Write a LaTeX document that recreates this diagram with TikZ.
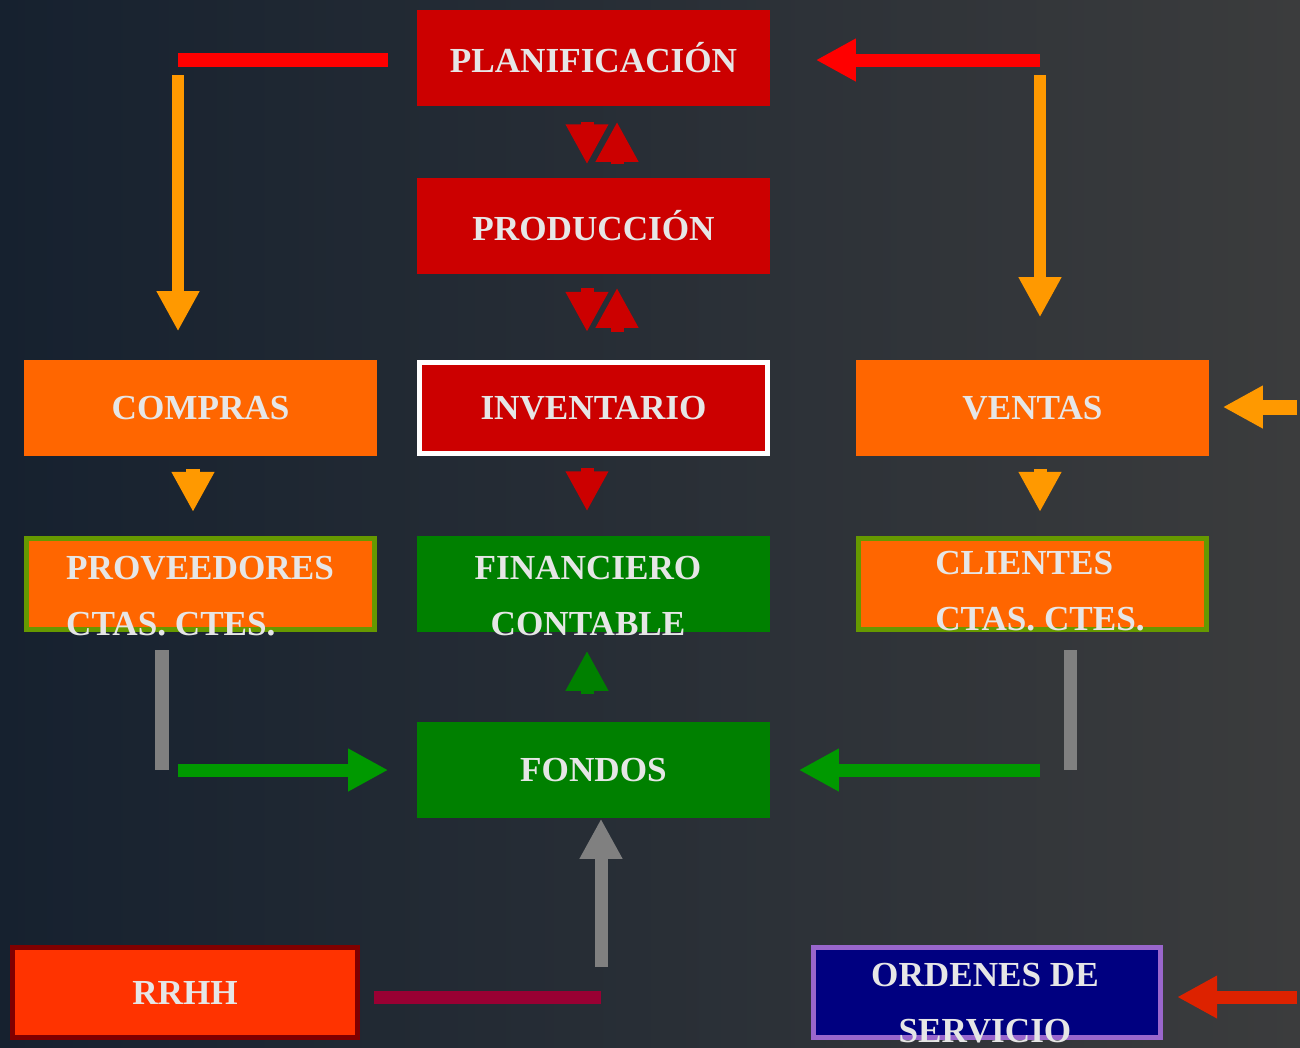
\documentclass[tikz,border=0pt]{standalone}
\usepackage{fontspec}
\setmainfont{Liberation Serif}
\usetikzlibrary{arrows.meta}

\definecolor{boxred}{HTML}{CC0000}
\definecolor{boxorange}{HTML}{FF6600}
\definecolor{boxgreen}{HTML}{008000}
\definecolor{edgegreen}{HTML}{669900}
\definecolor{arrorange}{HTML}{FF9900}
\definecolor{arrgreen}{HTML}{009900}
\definecolor{arrgray}{HTML}{808080}
\definecolor{crimson}{HTML}{990033}
\definecolor{hrred}{HTML}{FF3300}
\definecolor{hredge}{HTML}{800000}
\definecolor{navy}{HTML}{000080}
\definecolor{lilac}{HTML}{9966CC}
\definecolor{darkorangered}{HTML}{DD2200}
\definecolor{txtgray}{HTML}{E6E6E6}
\definecolor{bgleft}{HTML}{16212F}
\definecolor{bgright}{HTML}{3B3C3D}

\begin{document}
\begin{tikzpicture}[x=0.01cm,y=-0.01cm,
	box/.style={minimum width=3.53cm,minimum height=0.96cm,inner sep=0pt,text=txtgray,
		font=\bfseries\fontsize{10}{12}\selectfont},
	framed/.style={box,minimum width=3.48cm,minimum height=0.91cm,line width=0.05cm,draw=#1},
	txt/.style={text=txtgray,inner sep=0pt,font=\bfseries\fontsize{10}{12}\selectfont},
	tip/.style={-{Triangle[length=0.4cm,width=0.4cm]}},
	bar/.style={line width=0.13cm},
	redtip/.style={tip,bar,boxred}]

	% background
	\fill[left color=bgleft,right color=bgright] (0,0) rectangle (1300,1047);
	\useasboundingbox (0,0) rectangle (1300,1047);

	% central column
	\node[box,fill=boxred] (plan) at (593.5,58) {PLANIFICACIÓN};
	\node[box,fill=boxred] (prod) at (593.5,226) {PRODUCCIÓN};
	\node[framed=white,fill=boxred] (inv) at (593.5,408) {INVENTARIO};
	\node[box,fill=boxgreen] (fin) at (593.5,584) {};
	\node[txt,align=center] (fin-txt) at (588,596) {FINANCIERO\\[0.13cm]CONTABLE};
	\node[box,fill=boxgreen] (fondos) at (593.5,770) {FONDOS};

	% side columns
	\node[box,fill=boxorange] (compras) at (200.5,408) {COMPRAS};
	\node[box,fill=boxorange] (ventas) at (1032.5,408) {VENTAS};
	\node[framed=edgegreen,fill=boxorange] (prov) at (200.5,584) {};
	\node[txt,align=left] (prov-txt) at (200,596) {PROVEEDORES\\[0.13cm]CTAS. CTES.};
	\node[framed=edgegreen,fill=boxorange] (cli) at (1032.5,584) {};
	\node[txt,align=left] (cli-txt) at (1040,591) {CLIENTES\\[0.13cm]CTAS. CTES.};

	% bottom row
	\node[framed=hredge,fill=hrred,minimum width=3.45cm,minimum height=0.9cm] (rrhh) at (185,992.5) {RRHH};
	\node[framed=lilac,fill=navy,minimum width=3.47cm,minimum height=0.9cm] (ord) at (987,992.5) {};
	\node[txt,align=center] (ord-txt) at (985,1003) {ORDENES DE\\[0.13cm]SERVICIO};

	\coordinate (tl) at (178,60);
	\coordinate (tr) at (1040,60);
	\coordinate (bl) at (162,770);
	\coordinate (br) at (1070,770);
	\coordinate (bm) at (601,997);
	\coordinate (rv) at (1297,407);
	\coordinate (rb) at (1297,997);

	% top loop
	\draw[bar,red,line width=0.14cm,shorten >=0.28cm] (tl) -- (plan.west |- tl);
	\draw[tip,bar,line width=0.12cm,arrorange,shorten <=0.15cm,shorten >=0.28cm] (tl) -- (tl |- compras.north);
	\draw[tip,bar,red,shorten >=0.45cm] (tr) -- (plan.east |- tr);
	\draw[tip,bar,line width=0.12cm,arrorange,shorten <=0.15cm,shorten >=0.42cm] (tr) -- (tr |- ventas.north);

	% central double arrows
	\draw[redtip,shorten <=0.15cm,shorten >=0.13cm] ([xshift=-0.065cm]plan.south) -- ([xshift=-0.065cm]prod.north);
	\draw[redtip,shorten <=0.13cm,shorten >=0.15cm] ([xshift=0.235cm]prod.north) -- ([xshift=0.235cm]plan.south);
	\draw[redtip,shorten <=0.13cm,shorten >=0.28cm] ([xshift=-0.065cm]prod.south) -- ([xshift=-0.065cm]inv.north);
	\draw[redtip,shorten <=0.28cm,shorten >=0.13cm] ([xshift=0.235cm]inv.north) -- ([xshift=0.235cm]prod.south);
	\draw[redtip,shorten <=0.12cm,shorten >=0.24cm] ([xshift=-0.065cm]inv.south) -- ([xshift=-0.065cm]fin.north);
	\draw[tip,bar,boxgreen,shorten <=0.27cm,shorten >=0.18cm] ([xshift=-0.065cm]fondos.north) -- ([xshift=-0.065cm]fin.south);

	% side arrows
	\draw[tip,bar,arrorange,shorten <=0.12cm,shorten >=0.24cm] ([xshift=-0.075cm]compras.south) -- ([xshift=-0.075cm]prov.north);
	\draw[tip,bar,arrorange,shorten <=0.12cm,shorten >=0.24cm] ([xshift=0.075cm]ventas.south) -- ([xshift=0.075cm]cli.north);
	\draw[tip,bar,line width=0.15cm,arrorange,shorten >=0.13cm] (rv) -- (ventas.east |- rv);

	% towards fondos
	\draw[bar,arrgray,shorten <=0.18cm] (prov.south -| bl) -- (bl);
	\draw[bar,arrgray,shorten <=0.18cm] (cli.south -| br) -- (br);
	\draw[tip,bar,arrgreen,shorten <=0.16cm,shorten >=0.28cm] (bl) -- (fondos.west);
	\draw[tip,bar,arrgreen,shorten <=0.30cm,shorten >=0.28cm] (br) -- (fondos.east);
	\draw[tip,bar,arrgray,shorten <=0.30cm] (bm) -- (bm |- fondos.south);
	\draw[bar,crimson,shorten <=0.14cm] (rrhh.east |- bm) -- (bm);
	\draw[tip,bar,darkorangered,shorten >=0.14cm] (rb) -- (ord.east |- rb);
\end{tikzpicture}
\end{document}
